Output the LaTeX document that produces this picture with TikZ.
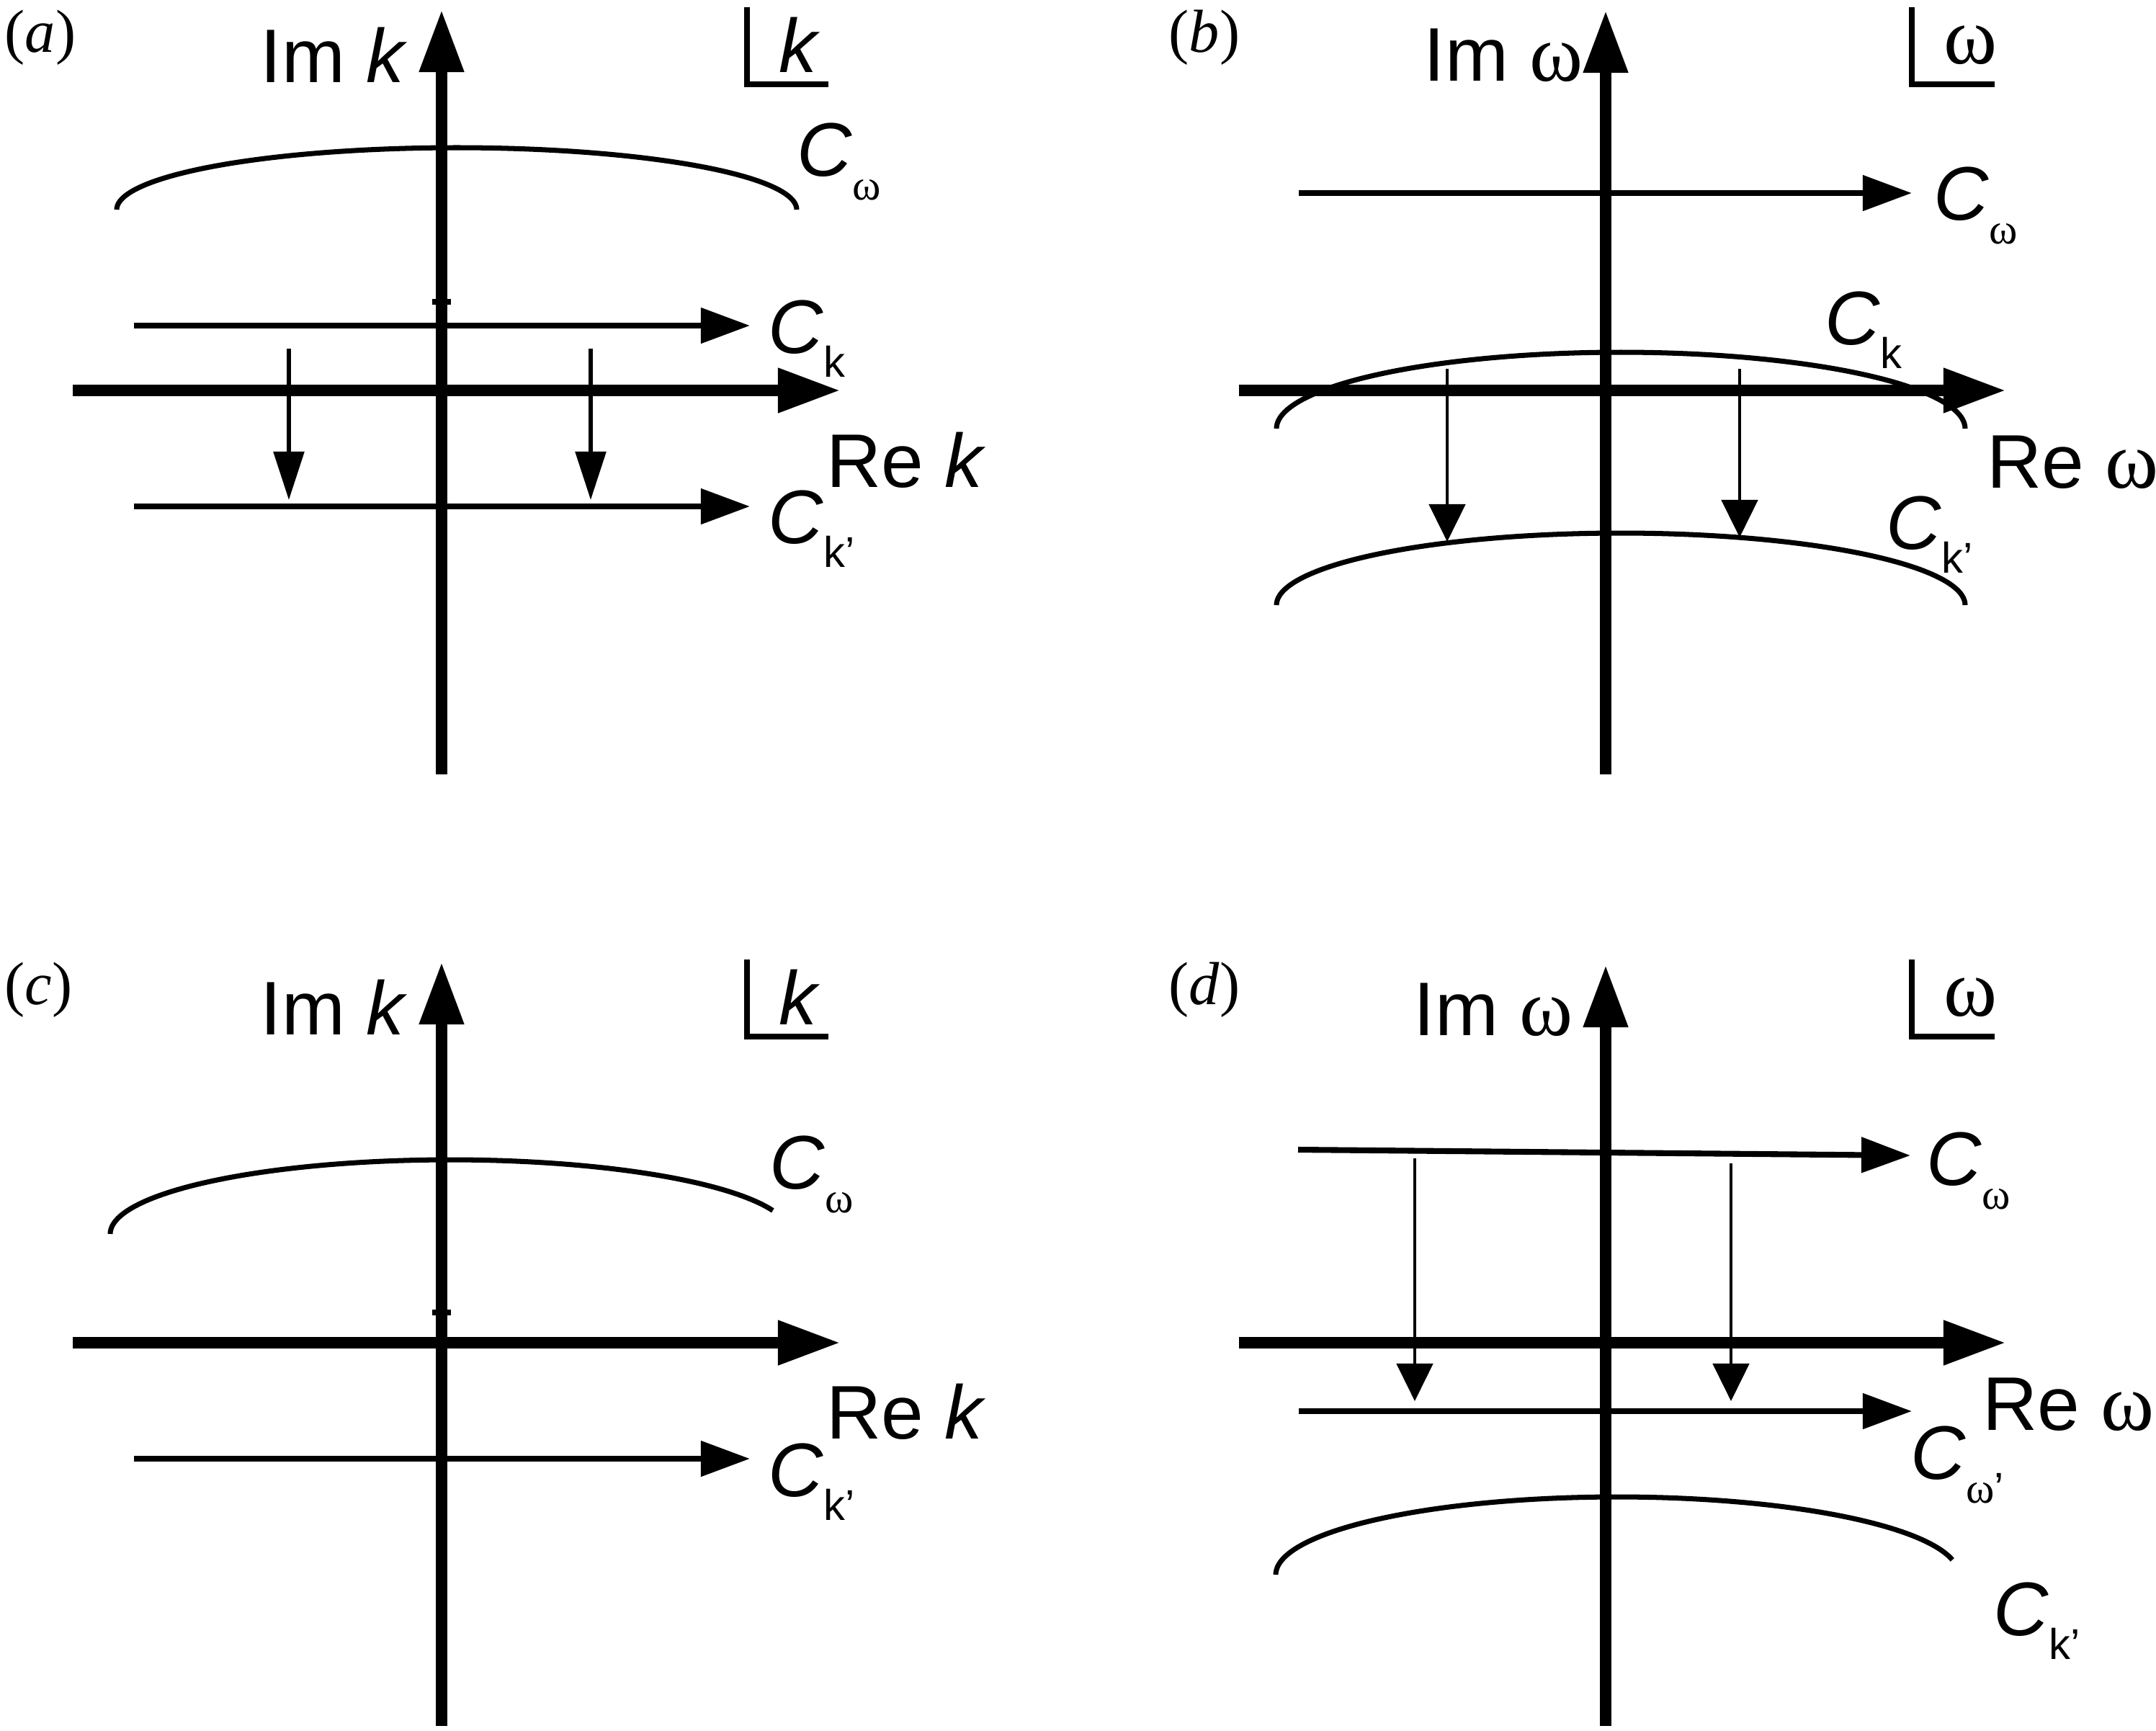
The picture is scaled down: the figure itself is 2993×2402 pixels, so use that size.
\documentclass[tikz,border=0pt]{standalone}
\usepackage{fontspec}
\setmainfont{Liberation Sans}
\newfontfamily\serifw{Liberation Serif}
\usetikzlibrary{arrows.meta}
\newcommand{\labsz}{\fontsize{30}{36}\selectfont}
\newcommand{\subsz}{\fontsize{17}{20}\selectfont}
\newcommand{\om}{{\serifw\fontsize{32}{36}\selectfont ω}}
\newcommand{\oms}{{\serifw ω}}
\newcommand{\Csub}[1]{\textit{C}\raisebox{-9.6pt}{\subsz #1}}
\tikzset{
  axisarrow/.style={line width=4.8pt, -{Triangle[length=0.87cm,width=0.58cm]}},
  contour/.style={line width=2.3pt, -{Triangle[length=0.68cm,width=0.48cm]}},
  arcline/.style={line width=2pt},
  shiftA/.style={line width=1.6pt, -{Triangle[length=0.67cm,width=0.42cm]}},
  shiftB/.style={line width=1.4pt, -{Triangle[length=0.52cm,width=0.50cm]}},
  tickmark/.style={line width=2.2pt},
  corner/.style={line width=2.3pt},
  lbl/.style={anchor=base west, inner sep=0pt, font=\labsz},
  panel/.style={anchor=base west, inner sep=0pt, font=\fontsize{24}{28}\selectfont\serifw},
}
\begin{document}
\begin{tikzpicture}[x=0.01cm, y=-0.01cm]
\fill[white] (0,0) rectangle (2993,2402);
\useasboundingbox (0,0) rectangle (2993,2402);

% ---------------- panel (a)
\node[panel] (pa) at (6,72) {(\textit{a})};
\coordinate (a-yb) at (613,1075); \coordinate (a-yt) at (613,13);
\coordinate (a-xl) at (101,542);  \coordinate (a-xr) at (1167,542);
\draw[axisarrow] (a-yb) -- (a-yt);
\draw[axisarrow] (a-xl) -- (a-xr);
\draw[tickmark] (600,419) -- (626,419);
\node[lbl] (a-im) at (361,114) {Im \textit{k}};
\coordinate (a-bt) at (1037,10); \coordinate (a-bc) at (1037,117); \coordinate (a-br) at (1150,117);
\draw[corner] (a-bt) -- (a-bc) -- (a-br);
\node[lbl] (a-k) at (1081,100) {\textit{k}};
\draw[arcline] plot[domain=180:360, samples=90, smooth] ({634+472*cos(\x)}, {291+86*sin(\x)});
\node[lbl] (a-cw) at (1106,244) {\Csub{\oms}};
\coordinate (a-ck1) at (186,452); \coordinate (a-ck2) at (1041,452);
\draw[contour] (a-ck1) -- (a-ck2);
\node[lbl] (a-ck) at (1066,490) {\Csub{k}};
\coordinate (a-d1s) at (401,484); \coordinate (a-d1e) at (401,694);
\coordinate (a-d2s) at (820,484); \coordinate (a-d2e) at (820,694);
\draw[shiftA] (a-d1s) -- (a-d1e);
\draw[shiftA] (a-d2s) -- (a-d2e);
\node[lbl] (a-re) at (1147,676) {Re \textit{k}};
\coordinate (a-cp1) at (186,703); \coordinate (a-cp2) at (1041,703);
\draw[contour] (a-cp1) -- (a-cp2);
\node[lbl] (a-ckp) at (1066,754) {\Csub{k’}};

% ---------------- panel (b)
\node[panel] (pb) at (1622,72) {(\textit{b})};
\coordinate (b-yb) at (2229,1075); \coordinate (b-yt) at (2229,14);
\coordinate (b-xl) at (1720,542);  \coordinate (b-xr) at (2785,542);
\draw[axisarrow] (b-yb) -- (b-yt);
\draw[axisarrow] (b-xl) -- (b-xr);
\draw[tickmark] (2222,957) -- (2236,957);
\node[lbl] (b-im) at (1976,112) {Im \om};
\coordinate (b-bt) at (2654,10); \coordinate (b-bc) at (2654,117); \coordinate (b-br) at (2769,117);
\draw[corner] (b-bt) -- (b-bc) -- (b-br);
\node[lbl] (b-w) at (2698,88) {\om};
\coordinate (b-cw1) at (1803,268); \coordinate (b-cw2) at (2654,268);
\draw[contour] (b-cw1) -- (b-cw2);
\node[lbl] (b-cw) at (2684,305) {\Csub{\oms}};
\draw[arcline] plot[domain=180:360, samples=90, smooth] ({2250+478*cos(\x)}, {595+106*sin(\x)});
\node[lbl] (b-ck) at (2533,478) {\Csub{k}};
\coordinate (b-d1s) at (2009,512); \coordinate (b-d1e) at (2009,752);
\coordinate (b-d2s) at (2415,512); \coordinate (b-d2e) at (2415,746);
\draw[shiftB] (b-d1s) -- (b-d1e);
\draw[shiftB] (b-d2s) -- (b-d2e);
\node[lbl] (b-re) at (2758,677) {Re \om};
\draw[arcline] plot[domain=180:360, samples=90, smooth] ({2250+478*cos(\x)}, {840+100*sin(\x)});
\node[lbl] (b-ckp) at (2618,762) {\Csub{k’}};

% ---------------- panel (c)
\node[panel] (pc) at (6,1394) {(\textit{c})};
\coordinate (c-yb) at (613,2396); \coordinate (c-yt) at (613,1335);
\coordinate (c-xl) at (101,1864); \coordinate (c-xr) at (1167,1864);
\draw[axisarrow] (c-yb) -- (c-yt);
\draw[axisarrow] (c-xl) -- (c-xr);
\draw[tickmark] (600,1822) -- (626,1822);
\node[lbl] (c-im) at (361,1436) {Im \textit{k}};
\coordinate (c-bt) at (1037,1332); \coordinate (c-bc) at (1037,1439); \coordinate (c-br) at (1150,1439);
\draw[corner] (c-bt) -- (c-bc) -- (c-br);
\node[lbl] (c-k) at (1081,1422) {\textit{k}};
\draw[arcline] plot[domain=180:341.6, samples=90, smooth] ({625+472*cos(\x)}, {1713+103*sin(\x)});
\node[lbl] (c-cw) at (1068,1650) {\Csub{\oms}};
\node[lbl] (c-re) at (1147,1997) {Re \textit{k}};
\coordinate (c-cp1) at (186,2025); \coordinate (c-cp2) at (1041,2025);
\draw[contour] (c-cp1) -- (c-cp2);
\node[lbl] (c-ckp) at (1066,2077) {\Csub{k’}};

% ---------------- panel (d)
\node[panel] (pd) at (1622,1394) {(\textit{d})};
\coordinate (d-yb) at (2229,2396); \coordinate (d-yt) at (2229,1339);
\coordinate (d-xl) at (1720,1864); \coordinate (d-xr) at (2785,1864);
\draw[axisarrow] (d-yb) -- (d-yt);
\draw[axisarrow] (d-xl) -- (d-xr);
\draw[tickmark] (2222,2292) -- (2236,2292);
\node[lbl] (d-im) at (1962,1437) {Im \om};
\coordinate (d-bt) at (2654,1332); \coordinate (d-bc) at (2654,1439); \coordinate (d-br) at (2769,1439);
\draw[corner] (d-bt) -- (d-bc) -- (d-br);
\node[lbl] (d-w) at (2698,1410) {\om};
\coordinate (d-cw1) at (1802,1596); \coordinate (d-cw2) at (2652,1604);
\draw[contour] (d-cw1) -- (d-cw2);
\node[lbl] (d-cw) at (2674,1645) {\Csub{\oms}};
\coordinate (d-d1s) at (1964,1608); \coordinate (d-d1e) at (1964,1945);
\coordinate (d-d2s) at (2403,1615); \coordinate (d-d2e) at (2403,1945);
\draw[shiftB] (d-d1s) -- (d-d1e);
\draw[shiftB] (d-d2s) -- (d-d2e);
\coordinate (d-cp1) at (1803,1959); \coordinate (d-cp2) at (2654,1959);
\draw[contour] (d-cp1) -- (d-cp2);
\node[lbl] (d-re) at (2752,1985) {Re \om};
\node[lbl] (d-cwp) at (2652,2053) {\Csub{\oms’}};
\draw[arcline] plot[domain=180:349, samples=90, smooth] ({2245+474*cos(\x)}, {2186+108*sin(\x)});
\node[lbl] (d-ckp) at (2767,2270) {\Csub{k’}};
\end{tikzpicture}
\end{document}
